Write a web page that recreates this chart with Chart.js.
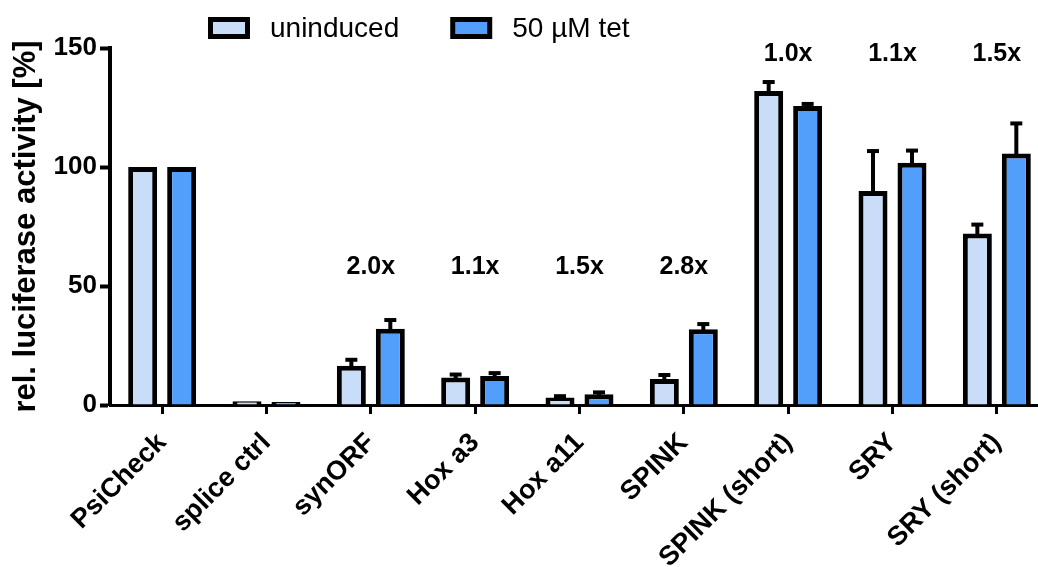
<!DOCTYPE html>
<html>
<head>
<meta charset="utf-8">
<script src="https://cdn.jsdelivr.net/npm/chart.js@4.4.1/dist/chart.umd.min.js"></script>
<style>
  html, body { margin: 0; padding: 0; background: #fff; overflow: hidden; }
  #wrap { width: 1052px; height: 567px; }
</style>
</head>
<body>
<div id="wrap"><canvas id="c" width="1052" height="567"></canvas></div>
<script>
// Constructs tested in the dual-luciferase assay
const categories = ['PsiCheck', 'splice ctrl', 'synORF', 'Hox a3', 'Hox a11', 'SPINK', 'SPINK (short)', 'SRY', 'SRY (short)'];

// Mean relative luciferase activity [%] and SD (upper error only)
const uninduced   = [100, 1.6, 16.5, 11.6, 3.2, 10.9, 131.9, 89.9, 72.1];
const uninducedSD = [0,   0,    2.5,  1.2, 0.5,  1.7,   3.8, 16.8,  3.7];
const tet         = [100, 1.3, 32.0, 12.2, 4.5, 31.8, 125.6, 101.8, 105.7];
const tetSD       = [0,   0,    3.7,  1.2, 0.8,  2.2,   0.9,   5.1,  12.6];

// Fold change (50 µM tet / uninduced) printed above each group
const foldLabels = ['', '', '2.0x', '1.1x', '1.5x', '2.8x', '1.0x', '1.1x', '1.5x'];

const yTicks = [0, 50, 100, 150];

const FONT = '"Liberation Sans", Arial, Helvetica, sans-serif';
const LIGHT = '#c9ddf8';
const BLUE = '#529ffb';

Chart.defaults.font.family = FONT;
Chart.defaults.color = '#000';

// Upper error bars with caps
const errorBars = {
  id: 'errorBars',
  afterDatasetsDraw(chart) {
    const ctx = chart.ctx;
    const yScale = chart.scales.y;
    ctx.save();
    ctx.strokeStyle = '#000';
    ctx.lineWidth = 4;
    ctx.lineCap = 'butt';
    chart.data.datasets.forEach((ds, di) => {
      const meta = chart.getDatasetMeta(di);
      meta.data.forEach((bar, i) => {
        const sd = ds.errors[i];
        if (!sd) return;
        const yTop = yScale.getPixelForValue(ds.data[i] + sd);
        ctx.beginPath();
        ctx.moveTo(bar.x, bar.y + 2);
        ctx.lineTo(bar.x, yTop);
        ctx.stroke();
        ctx.beginPath();
        ctx.moveTo(bar.x - 6, yTop);
        ctx.lineTo(bar.x + 6, yTop);
        ctx.stroke();
      });
    });
    ctx.restore();
  }
};

// Fold-change labels above the groups
const foldText = {
  id: 'foldText',
  afterDatasetsDraw(chart) {
    const ctx = chart.ctx;
    const xScale = chart.scales.x;
    const yScale = chart.scales.y;
    ctx.save();
    ctx.fillStyle = '#000';
    ctx.font = 'bold 25px ' + FONT;
    ctx.textAlign = 'center';
    ctx.textBaseline = 'middle';
    foldLabels.forEach((txt, i) => {
      if (!txt) return;
      const tall = Math.max(uninduced[i], tet[i]) > 60;
      const y = yScale.getPixelForValue(tall ? 147.5 : 58);
      ctx.fillText(txt, xScale.getPixelForValue(i), y);
    });
    ctx.restore();
  }
};

// Legend row drawn from the dataset styles
const boxLegend = {
  id: 'boxLegend',
  afterDraw(chart) {
    const ctx = chart.ctx;
    ctx.save();
    ctx.font = '28px ' + FONT;
    ctx.textBaseline = 'middle';
    ctx.textAlign = 'left';
    let x = 208;
    const cy = 28;
    chart.data.datasets.forEach((ds) => {
      ctx.fillStyle = ds.backgroundColor;
      ctx.fillRect(x + 2.5, cy - 8.5, 37, 17);
      ctx.strokeStyle = '#000';
      ctx.lineWidth = 5;
      ctx.strokeRect(x + 2.5, cy - 8.5, 37, 17);
      ctx.fillStyle = '#000';
      const tx = x + 42 + 20;
      ctx.fillText(ds.label, tx, cy + 1);
      x = tx + ctx.measureText(ds.label).width + 51;
    });
    ctx.restore();
  }
};

const barStyle = {
  borderColor: '#000',
  borderWidth: 5,
  borderSkipped: 'start',
  categoryPercentage: 0.747,
  barPercentage: 0.744
};

new Chart(document.getElementById('c'), {
  type: 'bar',
  data: {
    labels: categories,
    datasets: [
      Object.assign({ label: 'uninduced', data: uninduced, errors: uninducedSD, backgroundColor: LIGHT }, barStyle),
      Object.assign({ label: '50 µM tet', data: tet, errors: tetSD, backgroundColor: BLUE }, barStyle)
    ]
  },
  options: {
    responsive: false,
    animation: false,
    devicePixelRatio: 1,
    layout: { padding: { top: 48, right: 3, left: 0, bottom: 0 } },
    plugins: {
      legend: { display: false },
      tooltip: { enabled: false }
    },
    scales: {
      x: {
        offset: true,
        grid: {
          offset: false,
          drawOnChartArea: false,
          drawTicks: true,
          tickLength: 9,
          tickWidth: 3,
          tickColor: '#000'
        },
        border: { display: true, color: '#000', width: 3 },
        ticks: {
          autoSkip: false,
          minRotation: 45,
          maxRotation: 45,
          padding: 13,
          color: '#000',
          font: { size: 27, weight: 'bold' }
        },
        afterFit(scale) { scale.height = 162; }
      },
      y: {
        min: 0,
        max: 150,
        afterBuildTicks(scale) { scale.ticks = yTicks.map(v => ({ value: v })); },
        grid: {
          drawOnChartArea: false,
          drawTicks: true,
          tickLength: 10,
          tickWidth: 4,
          tickColor: '#000'
        },
        border: { display: true, color: '#000', width: 4 },
        ticks: {
          padding: 3,
          color: '#000',
          font: { size: 26, weight: 'bold' }
        },
        title: {
          display: true,
          text: 'rel. luciferase activity [%]',
          color: '#000',
          font: { size: 31, weight: 'bold' },
          padding: { top: 8, bottom: 0 }
        },
        afterFit(scale) { scale.width = 110; }
      }
    }
  },
  plugins: [errorBars, foldText, boxLegend]
});
</script>
</body>
</html>
